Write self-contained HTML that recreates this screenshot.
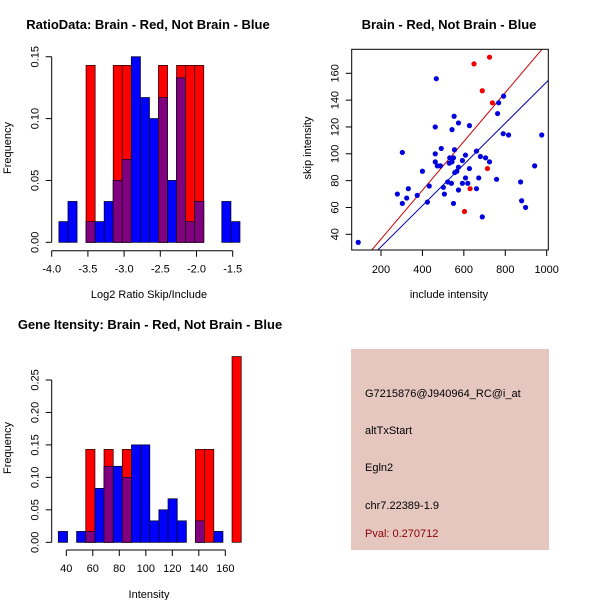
<!DOCTYPE html>
<html><head><meta charset="utf-8"><style>
body{margin:0;background:#fff}
svg{display:block;font-family:"Liberation Sans",Arial,sans-serif}
</style></head><body>
<svg id="s" width="600" height="600" xmlns="http://www.w3.org/2000/svg">
<rect width="600" height="600" fill="#fff"/>
<text x="148" y="29" font-size="13" font-weight="bold" text-anchor="middle">RatioData: Brain - Red, Not Brain - Blue</text>
<text x="449" y="29" font-size="13" font-weight="bold" text-anchor="middle">Brain - Red, Not Brain - Blue</text>
<text x="150" y="329" font-size="13" font-weight="bold" text-anchor="middle">Gene Itensity: Brain - Red, Not Brain - Blue</text>
<text x="149" y="298" font-size="11" text-anchor="middle">Log2 Ratio Skip/Include</text>
<text x="449" y="298" font-size="11" text-anchor="middle">include intensity</text>
<text x="149" y="598" font-size="11" text-anchor="middle">Intensity</text>
<text transform="translate(11,148) rotate(-90)" font-size="11" text-anchor="middle">Frequency</text>
<text transform="translate(311,148) rotate(-90)" font-size="11" text-anchor="middle">skip intensity</text>
<text transform="translate(11,448) rotate(-90)" font-size="11" text-anchor="middle">Frequency</text>
<g>
<rect x="351" y="349" width="198" height="201" fill="#e5c7c0"/>
<text x="365" y="397" font-size="11">G7215876@J940964_RC@i_at</text>
<text x="365" y="434" font-size="11">altTxStart</text>
<text x="365" y="471" font-size="11">Egln2</text>
<text x="365" y="509" font-size="11">chr7.22389-1.9</text>
<text x="365" y="537" font-size="11" fill="#8b0000">Pval: 0.270712</text>
</g>
<g id="g1"></g><g id="g2"></g><g id="g3"></g>
</svg>
<script>
// Ratio histogram
const ratioStart = -3.9, ratioBin = 0.125;
const ratioBlue = [0.0167,0.033,0,0.0167,0.0167,0.033,0.05,0.067,0.15,0.117,0.10,0.117,0.05,0.133,0.0167,0.033,0,0,0.033,0.0167];
const ratioRed  = [0,0,0,0.143,0,0,0.143,0.143,0,0,0,0.143,0,0.143,0.143,0.143,0,0,0,0];
const ratioXTicks = [-4.0,-3.5,-3.0,-2.5,-2.0,-1.5];
const ratioYTicks = [0.00,0.05,0.10,0.15];
// Intensity histogram
const intStart = 34, intBin = 6.9;
const intBlue = [0.0167,0,0.0167,0.0167,0.083,0.117,0.117,0.10,0.15,0.15,0.033,0.05,0.067,0.033,0,0.033,0,0.0167,0,0];
const intRed  = [0,0,0,0.143,0,0.143,0,0.143,0,0,0,0,0,0,0,0.143,0.143,0,0,0.286];
const intXTicks = [40,60,80,100,120,140,160];
const intYTicks = [0.00,0.05,0.10,0.15,0.20,0.25];
// Scatter
const blueInc = [90,279,303,303,324,332,375,400,424,433,467,462,462,462,472,487,491,501,506,522,530,532,540,543,543,550,550,553,555,556,566,574,574,574,593,593,608,608,619,627,627,661,661,672,680,689,705,724,758,763,768,792,790,816,874,879,898,942,976];
const blueSkip = [34,70,63,101,67,74,69,87,64,76,156,120,100,94,91,91,104,75,70,79,93,97,78,94,118,63,97,128,103,86,87,90,73,123,78,95,99,82,78,89,121,74,102,82,98,53,97,94,81,130,138,143,115,114,79,65,60,91,114];
const redInc = [649,724,689,738,714,630,603];
const redSkip = [167,172,147,138,89,74,57];
const redSlope = 0.182, blueSlope = 0.1535;
const scXTicks = [200,400,600,800,1000];
const scYTicks = [40,60,80,100,120,140,160];

const NS="http://www.w3.org/2000/svg";
function mk(p,tag,at){const e=document.createElementNS(NS,tag);for(const k in at)e.setAttribute(k,at[k]);p.appendChild(e);return e;}

function hist(g,start,bw,blue,red,xt,yt,X,Y,axY,name){
  for(let i=0;i<blue.length;i++){
    const x0=X(start+i*bw),x1=X(start+(i+1)*bw);
    const b=blue[i],r=red[i];
    if(b>0){const e=mk(g,'rect',{x:x0,y:Y(b),width:x1-x0,height:Y(0)-Y(b),fill:'#0000ff',stroke:'#000033','stroke-width':0.8});
      
      }
    if(r>0){const e=mk(g,'rect',{x:x0,y:Y(r),width:x1-x0,height:Y(0)-Y(r),fill:'#ff0000',stroke:'#330000','stroke-width':0.8});
      
      
      const m=Math.min(b,r);
      if(m>0){const p=mk(g,'rect',{x:x0,y:Y(m),width:x1-x0,height:Y(0)-Y(m),fill:'#800080',stroke:'#220022','stroke-width':0.8});
        
        }}
  }
  const xa=X(xt[0]),xb=X(xt[xt.length-1]);
  mk(g,'line',{x1:xa,x2:xb,y1:axY,y2:axY,stroke:'#000'});
  xt.forEach(t=>{mk(g,'line',{x1:X(t),x2:X(t),y1:axY,y2:axY+6,stroke:'#000'});
    const tx=mk(g,'text',{x:X(t),y:axY+22,'font-size':11,'text-anchor':'middle'});tx.textContent=t.toFixed(xt[0]%1||xt[1]%1?1:0);
    
    });
  const ax=51.7;
  mk(g,'line',{x1:ax,x2:ax,y1:Y(yt[0]),y2:Y(yt[yt.length-1]),stroke:'#000'});
  yt.forEach(t=>{mk(g,'line',{x1:ax-6,x2:ax,y1:Y(t),y2:Y(t),stroke:'#000'});
    const tx=mk(g,'text',{transform:`translate(${ax-13},${Y(t)}) rotate(-90)`,'font-size':11,'text-anchor':'middle'});tx.textContent=t.toFixed(2);
    
    });
}
hist(document.getElementById('g1'),ratioStart,ratioBin,ratioBlue,ratioRed,ratioXTicks,ratioYTicks,
  v=>51.7+(v+4)*72.4, v=>242.3-v*1237, 250.7,'ratio');
hist(document.getElementById('g3'),intStart,intBin,intBlue,intRed,intXTicks,intYTicks,
  v=>66.3+(v-40)*1.325, v=>542.3-v*649.3, 550,'intensity');

// scatter
const g2=document.getElementById('g2');
const SX=v=>381+(v-200)*0.2071, SY=v=>234.3-(v-40)*1.3417;
const L=351.7,R=548.3,T=49.3,B=250;
mk(g2,'defs',{}).innerHTML='<clipPath id="cp"><rect x="351.7" y="49.3" width="196.6" height="200.7"/></clipPath>';
const lr=mk(g2,'line',{x1:SX(0),y1:SY(0),x2:SX(1100),y2:SY(1100*redSlope),stroke:'#cc0000','clip-path':'url(#cp)'});


const lb=mk(g2,'line',{x1:SX(0),y1:SY(0),x2:SX(1100),y2:SY(1100*blueSlope),stroke:'#0000aa','clip-path':'url(#cp)'});


blueInc.forEach((v,i)=>{const c=mk(g2,'circle',{cx:SX(v),cy:SY(blueSkip[i]),r:2.6,fill:'#0000dd'});
  
  });
redInc.forEach((v,i)=>{const c=mk(g2,'circle',{cx:SX(v),cy:SY(redSkip[i]),r:2.6,fill:'#ee0000'});
  
  });
mk(g2,'rect',{x:L,y:T,width:R-L,height:B-T,fill:'none',stroke:'#000'});
scXTicks.forEach(t=>{mk(g2,'line',{x1:SX(t),x2:SX(t),y1:B,y2:B+6,stroke:'#000'});
  const tx=mk(g2,'text',{x:SX(t),y:B+23,'font-size':11,'text-anchor':'middle'});tx.textContent=t;
  
  });
scYTicks.forEach(t=>{mk(g2,'line',{x1:L-6,x2:L,y1:SY(t),y2:SY(t),stroke:'#000'});
  const tx=mk(g2,'text',{transform:`translate(${L-13},${SY(t)}) rotate(-90)`,'font-size':11,'text-anchor':'middle'});tx.textContent=t;
  
  });
</script>
</body></html>
